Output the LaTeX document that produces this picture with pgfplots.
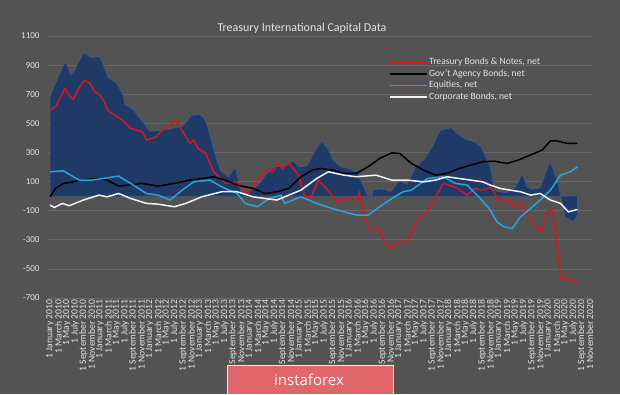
\documentclass[border=0pt]{standalone}
\usepackage{fontspec}
\setmainfont{Carlito}
\newfontfamily\wmfont{Open Sans}
\usepackage{pgfplots}
\pgfplotsset{compat=1.18}
\definecolor{bg}{HTML}{535353}
\definecolor{gridc}{HTML}{666666}
\definecolor{areab}{HTML}{203A68}
\definecolor{areaedge}{HTML}{3A5A92}
\definecolor{tred}{HTML}{D4181E}
\definecolor{tcyan}{HTML}{2AA3DA}
\definecolor{twhite}{HTML}{F2F2F2}
\definecolor{txt}{HTML}{E3E3E3}
\definecolor{wm}{HTML}{E0666A}
\begin{document}
\begin{tikzpicture}[x=1pt,y=1pt]
\fill[bg] (0,0) rectangle (620,394);
\useasboundingbox (0,0) rectangle (620,394);
\node[text=txt, font=\fontsize{12}{14}\selectfont] at (302,366) {Treasury International Capital Data};
\begin{axis}[
  at={(48pt,96pt)}, anchor=south west, scale only axis,
  width=544pt, height=262pt,
  xmin=-0.5, xmax=130.5, ymin=-700, ymax=1100,
  ytick={-700,-500,-300,-100,100,300,500,700,900,1100},
  xtick={0,2,...,130},
  xticklabels={1 January 2010,1 March 2010,1 May 2010,1 July 2010,1 September 2010,1 November 2010,
  1 January 2011,1 March 2011,1 May 2011,1 July 2011,1 September 2011,1 November 2011,
  1 January 2012,1 March 2012,1 May 2012,1 July 2012,1 September 2012,1 November 2012,
  1 January 2013,1 March 2013,1 May 2013,1 July 2013,1 September 2013,1 November 2013,
  1 January 2014,1 March 2014,1 May 2014,1 July 2014,1 September 2014,1 November 2014,
  1 January 2015,1 March 2015,1 May 2015,1 July 2015,1 September 2015,1 November 2015,
  1 January 2016,1 March 2016,1 May 2016,1 July 2016,1 September 2016,1 November 2016,
  1 January 2017,1 March 2017,1 May 2017,1 July 2017,1 September 2017,1 November 2017,
  1 January 2018,1 March 2018,1 May 2018,1 July 2018,1 September 2018,1 November 2018,
  1 January 2019,1 March 2019,1 May 2019,1 July 2019,1 September 2019,1 November 2019,
  1 January 2020,1 March 2020,1 May 2020,1 July 2020,1 September 2020,1 November 2020},
  axis line style={draw=none},
  major tick length=0pt,
  ymajorgrids, grid style={gridc, line width=0.7pt},
  /pgf/number format/assume math mode=true,
  /pgf/number format/1000 sep={},
  yticklabel style={font=\fontsize{9}{10}\selectfont, text=txt, xshift=-5pt},
  xticklabel style={font=\fontsize{9.6}{10}\selectfont, text=txt, rotate=90, anchor=east, inner sep=1.5pt},
  legend style={draw=none, fill=none, font=\fontsize{9.6}{11}\selectfont, text=txt,
    at={(0.622,0.928)}, anchor=north west, row sep=1.4pt, nodes={inner sep=1pt}, cells={anchor=west}},
  legend image code/.code={\draw[#1, line width=1.6pt] (0pt,0pt) -- (37pt,0pt);},
]
\addplot[fill=areab, draw=areaedge, line width=0.6pt, forget plot] coordinates {
(0,0) (0,684) (2,821) (3.6,920) (4,905) (5,830) (6,869) (8,985) (10,950) (11,958) (12,960) (14,814) (16,775) (17.5,700) (18,630) (20,594)
(22,520) (24,445) (26,450) (28,455) (30,470) (32,480) (34,555) (36,560) (37,540) (38,470) (40,260)
(41,175) (43,130) (44.6,200) (46,20) (47,10) (48,31) (50,73) (52,148) (54,203) (56,202) (58.5,240) (60,200)
(62,208) (64,322) (65.5,375) (67,320) (68,255) (70,200) (72,190) (74,158) (76,32) (77,-20) (78,44) (80,49)
(82,31) (84,102) (86,81) (88,199) (90,250) (92,337) (94,453) (96.6,470) (98,430) (100,390)
(102.3,373) (104,330) (106,200) (107,40) (108,30) (110,23) (112,60) (113.7,150) (115,60) (116,47) (118,56) (120.4,240)
(122,119) (123,0) (124,-142) (126,-176) (127,-129) (127,0)
} \closedcycle;
\addplot[tred, line width=1.5pt] coordinates {
(0,584) (1.6,625) (3.6,740) (4.8,682) (5.6,666) (6.8,740) (8.4,797) (9.6,774) (10.8,717) (12,694)
(13,650) (14,585) (15.7,556) (17.5,520) (19.4,465) (22.3,442) (23.2,385) (25.6,408) (27,453) (30.3,522)
(31.7,453) (33.7,361) (34.6,385) (35.6,328) (37.5,293) (39.4,167) (42.3,87) (45,98) (47,30) (47.8,19)
(49.9,110) (51.8,179) (53.7,167) (54.6,225) (56,190) (57.5,225) (59.9,144) (61.3,-4) (63,0) (64.6,110)
(66.5,53) (68.4,-16) (69,-39) (70.8,-16) (73.7,-27) (74.5,25) (75.6,-142) (77,-234) (79,-222) (80.4,-314)
(82.3,-360) (83.7,-314) (86,-314) (88,-176) (90.9,-108) (92.8,-5) (94.7,87) (96,76) (98,55) (100.4,7)
(102.3,53) (104,41) (106,60) (106.8,30) (108.4,-39) (110.8,-27) (111.6,-73) (113.7,-50) (114.9,-130) (118,-245)
(120,-96) (121,-96) (122.5,-440) (122.9,-566) (125.3,-572) (127,-600)
};
\addlegendentry{Treasury Bonds \& Notes, net}
\addplot[black, line width=1.5pt] coordinates {
(0,-5) (1.3,53) (3.2,87) (5.6,98) (7,110) (11.7,121) (13.7,110) (16.5,69) (19.4,76) (22,87)
(26,69) (29.9,87) (33.7,110) (36.5,121) (39.4,133) (42.2,110) (45,76) (48.9,53) (51.7,18) (54.6,30)
(57.5,53) (60.4,133) (63.2,179) (65.1,190) (68,179) (70.8,156) (73.7,156) (76.6,202) (79.4,259) (82.3,297)
(84.2,293) (87,225) (89.9,179) (92.8,144) (95.6,156) (98.5,190) (101.3,213) (104.2,236) (107,240) (110,224)
(112.8,248) (115.6,282) (118.5,316) (120.5,380) (122,380) (124.5,362) (127,362)
};
\addlegendentry{Gov't Agency Bonds, net}
\addplot[tcyan, line width=1.5pt] coordinates {
(0,167) (3.2,174) (7,110) (9.9,110) (12.7,121) (16.5,137) (19.4,87) (23.2,18) (26,7) (28.9,-27)
(31.8,41) (34.6,98) (38.5,110) (41.3,64) (45,18) (47,-50) (49.9,-73) (52.8,-16) (55.6,7) (56.5,-50)
(60.4,-5) (64.2,-50) (68,-85) (70.8,-108) (73.7,-130) (76.6,-130) (79.4,-73) (82.3,-16) (85,30) (87,41)
(90.9,121) (94.7,133) (97.6,87) (100.4,76) (103.6,-16) (106,-96) (107.6,-176) (109.3,-211) (111.3,-222) (113.3,-142)
(115.7,-85) (118,-27) (120.5,41) (122.9,144) (125.3,167) (127,201)
};
\addlegendentry{Equities, net}
\addplot[twhite, line width=1.5pt] coordinates {
(0,-62) (1,-78) (3,-50) (4.6,-66) (8,-27) (11.8,7) (13.7,-5) (16.5,18) (19.4,-16) (23.2,-50)
(26,-55) (29.9,-73) (32.7,-50) (36.5,-5) (41.3,30) (45,30) (48.9,-5) (51.7,-16) (54.6,-27) (57.5,7)
(60.4,41) (64.2,121) (67,167) (70.8,144) (73.7,133) (78.5,144) (82.3,110) (86,110) (89.9,98) (92.8,110)
(95.6,133) (98.5,121) (101.3,110) (104.2,98) (106,76) (108.4,53) (110.8,41) (113.3,30) (115.7,7) (118,18)
(120.5,-27) (122.9,-50) (124.8,-108) (127,-92)
};
\addlegendentry{Corporate Bonds, net}
\end{axis}
\fill[wm] (227,0) rectangle (393,29);
\draw[white!85!wm, line width=0.8pt] (227,0) -- (227,29) -- (393,29) -- (393,0);
\node[text=white, font=\wmfont\fontsize{15}{17}\selectfont] at (309,14) {instaforex};
\end{tikzpicture}
\end{document}
